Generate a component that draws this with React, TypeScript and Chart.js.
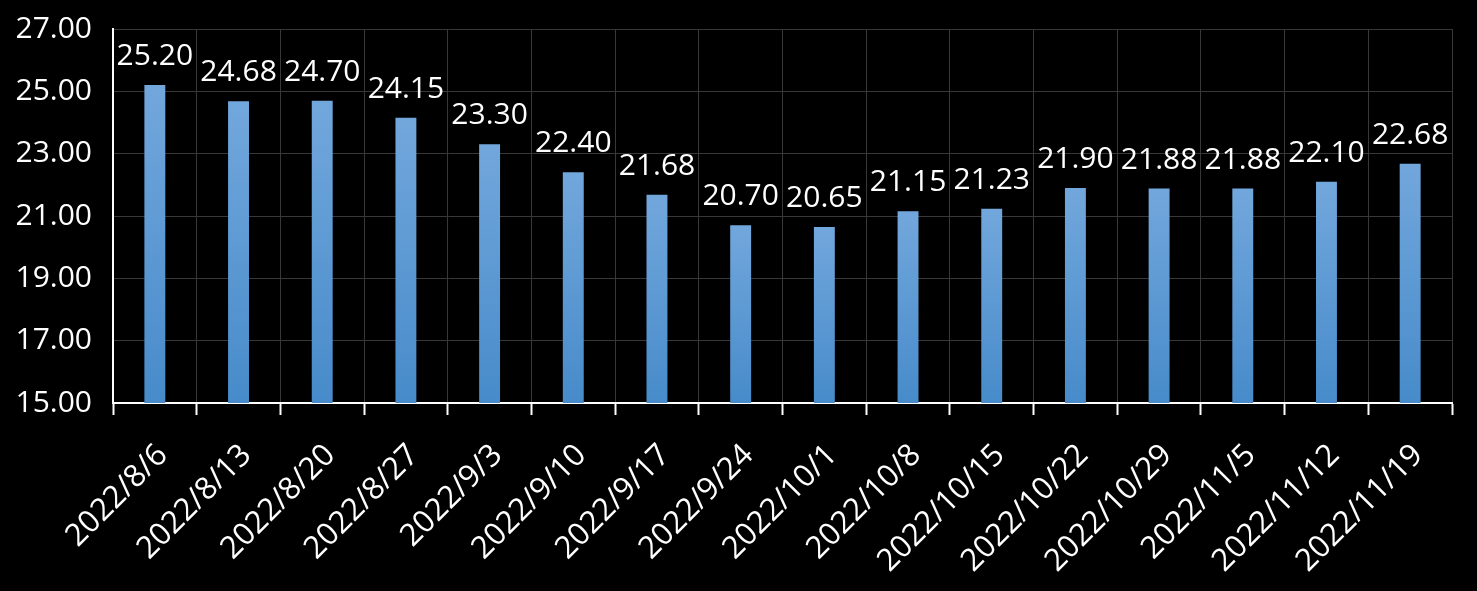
import React, { useEffect, useRef } from 'react';
import { Chart, registerables } from 'chart.js';

Chart.register(...registerables);

const categories = [
  '2022/8/6', '2022/8/13', '2022/8/20', '2022/8/27', '2022/9/3', '2022/9/10',
  '2022/9/17', '2022/9/24', '2022/10/1', '2022/10/8', '2022/10/15', '2022/10/22',
  '2022/10/29', '2022/11/5', '2022/11/12', '2022/11/19',
];
const values = [
  25.2, 24.68, 24.7, 24.15, 23.3, 22.4, 21.68, 20.7, 20.65, 21.15, 21.23, 21.9,
  21.88, 21.88, 22.1, 22.68,
];
const yMin = 15;
const yMax = 27;
const yStep = 2;

const FONT = '"Open Sans", "Noto Sans", sans-serif';
const FONT_SIZE = 30;
const X_FONT_SIZE = 31;

const bgPlugin = {
  id: 'bgFill',
  beforeDraw(chart: any) {
    const { ctx, width, height } = chart;
    ctx.save();
    ctx.fillStyle = '#000';
    ctx.fillRect(0, 0, width, height);
    ctx.restore();
  },
};

const labelPlugin = {
  id: 'valueLabels',
  afterDatasetsDraw(chart: any) {
    const { ctx } = chart;
    const meta = chart.getDatasetMeta(0);
    ctx.save();
    ctx.font = `${FONT_SIZE}px ${FONT}`;
    ctx.fillStyle = '#ffffff';
    ctx.textAlign = 'center';
    ctx.textBaseline = 'alphabetic';
    meta.data.forEach((el: any, i: number) => {
      ctx.fillText(values[i].toFixed(2), el.x, el.y - 20);
    });
    ctx.restore();
  },
};

const zeroPad = (s: any) => {
  s.paddingTop = 0;
  s.paddingBottom = 0;
  s.paddingLeft = 0;
  s.paddingRight = 0;
};

export default function App() {
  const ref = useRef<HTMLCanvasElement | null>(null);

  useEffect(() => {
    document.body.style.margin = '0';
    document.body.style.background = '#000';
    const canvas = ref.current;
    if (!canvas) return;
    const chart = new Chart(canvas, {
      type: 'bar',
      data: {
        labels: categories,
        datasets: [
          {
            data: values,
            backgroundColor: (c: any) => {
              const ch = c.chart;
              const area = ch.chartArea;
              const ys = ch.scales?.y;
              if (!area || !ys || c.raw == null) return '#5b9bd5';
              const top = ys.getPixelForValue(c.raw);
              const g = ch.ctx.createLinearGradient(0, top, 0, area.bottom);
              g.addColorStop(0, '#72a7dc');
              g.addColorStop(1, '#478bca');
              return g;
            },
            borderWidth: 0,
            barPercentage: 0.25,
            categoryPercentage: 1,
          },
        ],
      },
      options: {
        animation: false,
        responsive: false,
        maintainAspectRatio: false,
        layout: { padding: { left: 0, top: 29, right: 25, bottom: 0 } },
        plugins: {
          legend: { display: false },
          tooltip: { enabled: false },
          title: { display: false },
        },
        scales: {
          x: {
            offset: true,
            grid: {
              offset: true,
              color: '#383838',
              lineWidth: 1,
              drawTicks: true,
              tickLength: 12,
              tickColor: '#ffffff',
              tickWidth: 2,
            },
            border: { color: '#ffffff', width: 2 },
            ticks: {
              color: '#ffffff',
              font: { family: FONT, size: X_FONT_SIZE },
              minRotation: 45,
              maxRotation: 45,
              autoSkip: false,
              padding: 22,
              labelOffset: 8,
            },
            afterFit: (s: any) => {
              s.height = 591 - 403;
              zeroPad(s);
            },
          },
          y: {
            min: yMin,
            max: yMax,
            grid: { color: '#383838', lineWidth: 1, drawTicks: false },
            border: { color: '#ffffff', width: 2 },
            ticks: {
              stepSize: yStep,
              color: '#ffffff',
              font: { family: FONT, size: FONT_SIZE },
              padding: 21,
              callback: (v: any) => Number(v).toFixed(2),
            },
            afterFit: (s: any) => {
              s.width = 113;
              zeroPad(s);
            },
          },
        },
      },
      plugins: [bgPlugin, labelPlugin],
    });
    return () => chart.destroy();
  }, []);

  return (
    <div style={{ position: 'fixed', left: 0, top: 0, width: 1477, height: 591, background: '#000' }}>
      <canvas ref={ref} width={1477} height={591} style={{ display: 'block' }} />
    </div>
  );
}
